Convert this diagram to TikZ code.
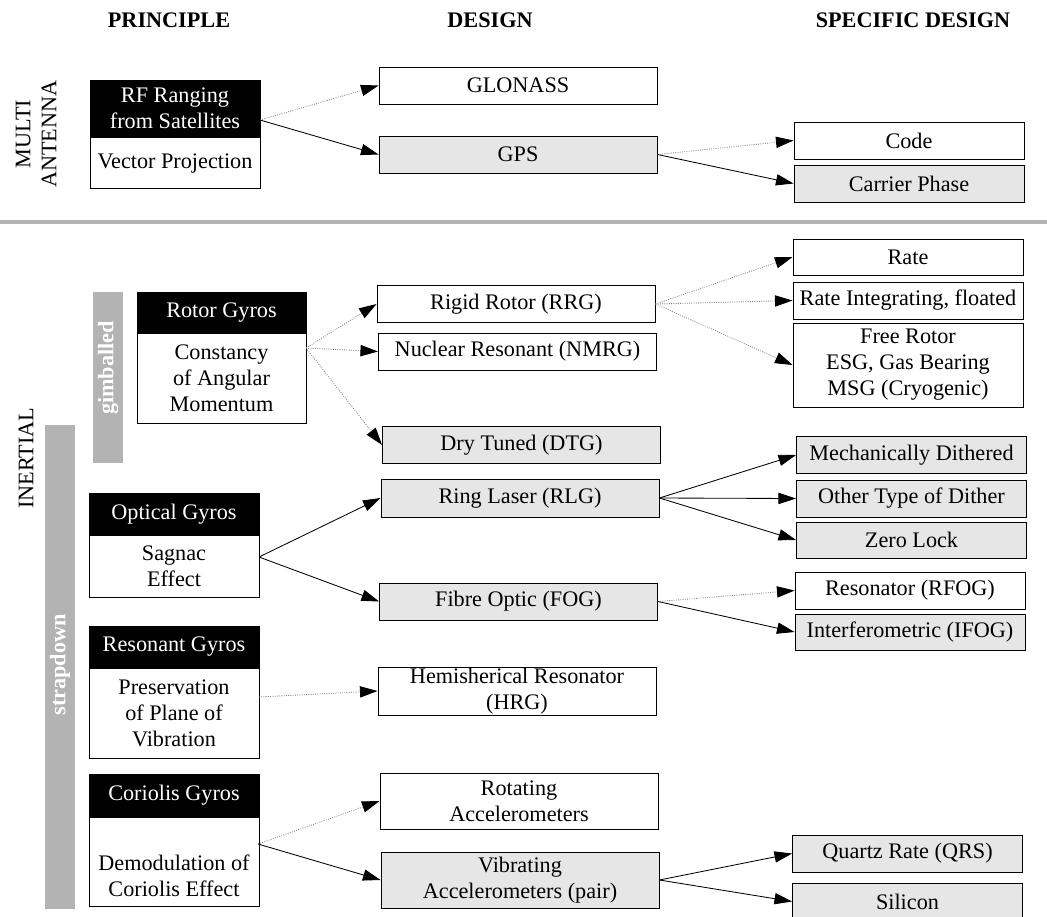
\documentclass[tikz,border=0pt]{standalone}
\usepackage{fontspec}
\setmainfont{Liberation Serif}
\usetikzlibrary{arrows.meta, positioning}
\definecolor{BarGray}{HTML}{B3B3B3}
\definecolor{BoxGray}{HTML}{E6E6E6}

\begin{document}
\begin{tikzpicture}[x=0.025cm, y=-0.025cm,
  every node/.style={font=\fontsize{15.8}{18.5}\selectfont},
  head/.style={fill=black, draw=black, text=white, minimum width=4.25cm, align=center, inner sep=0pt},
  body/.style={fill=white, draw=black, line width=0.6pt, minimum width=4.25cm, align=center, inner sep=0pt},
  design/.style={draw=black, line width=0.6pt, fill=white, minimum width=6.95cm, minimum height=0.925cm, align=center, inner sep=0pt},
  spec/.style={design, minimum width=5.75cm},
  hl/.style={fill=BoxGray},
  sure/.style={draw=black, line width=0.6pt, -{Triangle[length=12.5pt, width=8pt]}},
  maybe/.style={draw=gray, densely dotted, line width=0.6pt, -{Triangle[length=12.5pt, width=8pt, black]}},
  bar/.style={fill=BarGray, minimum width=0.75cm, inner sep=0pt},
  bartext/.style={rotate=90, text=white, font=\fontsize{15.8}{18.5}\selectfont\bfseries}]
  \useasboundingbox (0,0) rectangle (1047,916);
  % Column titles
  \node[font=\fontsize{15.8}{18.5}\selectfont\bfseries] (tprin) at (169,20) {PRINCIPLE};
  \node[font=\fontsize{15.8}{18.5}\selectfont\bfseries] (tdes) at (490,20) {DESIGN};
  \node[font=\fontsize{15.8}{18.5}\selectfont\bfseries] (tspec) at (913,20) {SPECIFIC DESIGN};
  % Side labels
  \node[rotate=90, align=center] (multi) at (36,134) {MULTI\\ANTENNA};
  \node[rotate=90] (inertial) at (26,458) {INERTIAL};
  \node[bar, minimum height=4.275cm] (gimbar) at (108,377.5) {};
  \node[bartext] (gimtxt) at (108,368) {gimballed};
  \node[bar, minimum height=12.1cm] (strapbar) at (60,667) {};
  \node[bartext] (straptxt) at (60,665) {strapdown};
  % Separator
  \draw[BarGray, line width=2.8pt] (0,222) -- (1047,222);

  % Multi antenna
  \node[head, minimum height=1.425cm] (rfhead) at (175,108.5) {RF Ranging\\from Satellites};
  \node[body, minimum height=1.275cm, below=0pt of rfhead] (rfbody) {Vector Projection};
  \coordinate (rfout) at (260,120);
  \node[design] (glonass) at (518,85.5) {GLONASS};
  \node[design, hl] (gps) at (518,154.5) {GPS};
  \node[spec] (code) at (909,140.5) {Code};
  \node[spec, hl] (carrier) at (909,183.5) {Carrier Phase};
  \draw[maybe] (rfout) -- (glonass.west);
  \draw[sure] (rfout) -- (gps.west);
  \draw[maybe] (gps.east) -- (code.west);
  \draw[sure] (gps.east) -- (carrier.west);

  % Rotor gyros
  \node[head, minimum width=4.225cm, minimum height=1.025cm] (rotorhead) at (221.5,312.5) {Rotor Gyros};
  \node[body, minimum width=4.225cm, minimum height=2.25cm, below=0pt of rotorhead] (rotorbody) {Constancy\\of Angular\\Momentum};
  \coordinate (rotorout) at (306,348);
  \node[design] (rrg) at (516,304) {Rigid Rotor (RRG)};
  \node[design] (nmrg) at (517.5,351.5) {Nuclear Resonant (NMRG)};
  \node[design, hl] (dtg) at (521.5,445) {Dry Tuned (DTG)};
  \node[spec, minimum height=0.9cm] (rate) at (908,257) {Rate};
  \node[spec] (rateint) at (908,300.5) {Rate Integrating, floated};
  \node[spec, minimum height=2.1cm] (freerotor) at (908,365) {Free Rotor\\ESG, Gas Bearing\\MSG (Cryogenic)};
  \draw[maybe] (rotorout) -- (rrg.west);
  \draw[maybe] (rotorout) -- (nmrg.west);
  \draw[maybe] (rotorout) -- (dtg.west);
  \draw[maybe] (rrg.east) -- (rate.west);
  \draw[maybe] (rrg.east) -- (rateint.west);
  \draw[maybe] (rrg.east) -- (freerotor.west);

  % Optical gyros
  \node[head, minimum height=1.05cm] (opthead) at (174,514) {Optical Gyros};
  \node[body, minimum height=1.55cm, below=0pt of opthead] (optbody) {Sagnac\\Effect};
  \coordinate (optout) at (259,557);
  \node[design, hl, minimum height=0.95cm] (rlg) at (520,498) {Ring Laser (RLG)};
  \node[design, hl] (fog) at (518.5,601.5) {Fibre Optic (FOG)};
  \node[spec, hl] (mechdith) at (911.5,455) {Mechanically Dithered};
  \node[spec, hl] (otherdith) at (911.5,498.5) {Other Type of Dither};
  \node[spec, hl, minimum height=0.9cm] (zerolock) at (911.5,540) {Zero Lock};
  \node[spec] (rfog) at (910,590.5) {Resonator (RFOG)};
  \node[spec, hl, minimum height=0.9cm] (ifog) at (910,632) {Interferometric (IFOG)};
  \draw[sure] (optout) -- (rlg.west);
  \draw[sure] (optout) -- (fog.west);
  \draw[sure] (rlg.east) -- (mechdith.west);
  \draw[sure] (rlg.east) -- (otherdith.west);
  \draw[sure] (rlg.east) -- (zerolock.west);
  \draw[maybe] (fog.east) -- (rfog.west);
  \draw[sure] (fog.east) -- (ifog.west);

  % Resonant gyros
  \node[head, minimum height=1.05cm] (reshead) at (174,647) {Resonant Gyros};
  \node[body, minimum height=2.25cm, below=0pt of reshead] (resbody) {Preservation\\of Plane of\\Vibration};
  \coordinate (resout) at (259,697);
  \node[design, minimum height=1.2cm] (hrg) at (517,691) {Hemisherical Resonator\\(HRG)};
  \draw[maybe] (resout) -- (hrg.west);

  % Coriolis gyros
  \node[head, minimum height=1.075cm] (corhead) at (174,795.5) {Coriolis Gyros};
  \node[body, minimum height=2.225cm, below=0pt of corhead] (corbody) {\mbox{}\\[12pt]Demodulation of\\Coriolis Effect};
  \coordinate (corout) at (258,844);
  \node[design, minimum height=1.4cm] (rotacc) at (519,801) {Rotating\\Accelerometers};
  \node[design, hl, minimum height=1.4cm] (vibacc) at (520,880) {Vibrating\\Accelerometers (pair)};
  \node[spec, hl] (qrs) at (907.5,853.5) {Quartz Rate (QRS)};
  \node[spec, hl] (silicon) at (907.5,901.5) {Silicon};
  \draw[maybe] (corout) -- (rotacc.west);
  \draw[sure] (corout) -- (vibacc.west);
  \draw[sure] (vibacc.east) -- (qrs.west);
  \draw[sure] (vibacc.east) -- (silicon.west);
\end{tikzpicture}
\end{document}
